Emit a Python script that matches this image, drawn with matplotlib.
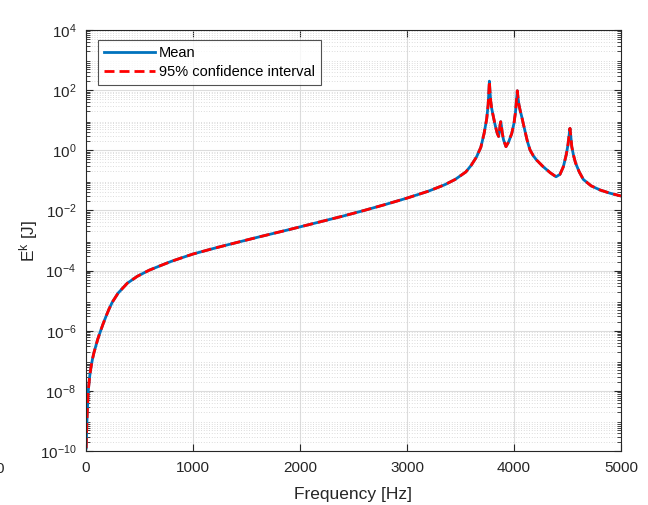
import numpy as np
import matplotlib
matplotlib.use('Agg')
import matplotlib.pyplot as plt
from matplotlib.ticker import LogLocator, FixedLocator, NullFormatter

# frequency [Hz] and kinetic energy (log10 of E^k [J])
freq = [2, 6, 12, 21, 35, 45, 60, 75, 90, 110, 137, 160, 184, 215, 246, 300,
        386, 480, 589, 700, 800, 916, 1000, 1165, 1283, 1595, 1907, 2187,
        2400, 2600, 2800, 3000, 3200, 3350, 3450, 3550, 3600, 3650, 3690,
        3720, 3745, 3758, 3765, 3770, 3775, 3782, 3792, 3807, 3825, 3843,
        3856, 3864, 3870, 3876, 3882, 3890, 3902, 3925, 3950, 3979, 4000,
        4015, 4024, 4031, 4037, 4046, 4058, 4072, 4100, 4125, 4150, 4180,
        4210, 4274, 4340, 4393, 4430, 4461, 4490, 4505, 4515, 4523, 4530,
        4540, 4555, 4575, 4610, 4648, 4720, 4804, 4900, 5000]
log_mean = [-9.9, -9.3, -8.7, -8.0, -7.5, -7.25, -6.95, -6.72, -6.53, -6.28,
            -6.0, -5.77, -5.55, -5.28, -5.05, -4.75,
            -4.42, -4.19, -3.99, -3.83, -3.69, -3.55, -3.45, -3.29, -3.18,
            -2.90, -2.63, -2.38,
            -2.19, -2.0, -1.80, -1.59, -1.36, -1.15, -0.97, -0.72, -0.50,
            -0.22, 0.1,
            0.55, 1.05, 1.5, 1.95, 2.3, 1.98, 1.65, 1.38, 1.12, 0.82, 0.57,
            0.46, 0.62, 0.85, 0.95, 0.82, 0.58, 0.35, 0.12, 0.28, 0.56, 0.9,
            1.3, 1.7, 1.98, 1.76, 1.52, 1.32, 1.12, 0.68, 0.3,
            0.01, -0.18, -0.32, -0.55,
            -0.75, -0.88, -0.80, -0.55, -0.12, 0.2, 0.5, 0.73, 0.5,
            0.12, -0.15, -0.42, -0.72, -0.97, -1.18, -1.32, -1.43, -1.52]
mean = 10 ** np.array(log_mean)
ci = 10 ** np.array(log_mean)   # 95% bounds lie on top of the mean

plt.rcParams['font.family'] = ['Liberation Sans', 'DejaVu Sans']
plt.rcParams['mathtext.fontset'] = 'custom'
plt.rcParams['mathtext.rm'] = 'Liberation Sans'
plt.rcParams['mathtext.it'] = 'Liberation Sans:italic'
plt.rcParams['mathtext.bf'] = 'Liberation Sans:bold'

fig = plt.figure(figsize=(6.48, 5.05), dpi=100)
ax = fig.add_axes([86/648, 1-451/505, 535/648, 421/505])

ax.plot(freq, mean, color='#0072BD', lw=2.0, label='Mean')
ax.plot(freq, ci, color='#FF0000', lw=2.0, ls=(0, (3.6, 1.8)),
        label='95% confidence interval')

ax.set_yscale('log')
ax.set_xlim(0, 5000)
ax.set_ylim(1e-10, 1e4)
ax.xaxis.set_major_locator(FixedLocator([0, 1000, 2000, 3000, 4000, 5000]))
ax.yaxis.set_major_locator(FixedLocator([10.0**k for k in range(-10, 5, 2)]))
ax.yaxis.set_minor_locator(LogLocator(base=10, subs=np.arange(2, 10), numticks=50))
ax.yaxis.set_minor_formatter(NullFormatter())

axcol = '#262626'
for s in ax.spines.values():
    s.set_color(axcol)
    s.set_linewidth(0.8)
ax.tick_params(which='both', direction='in', top=True, right=True,
               colors=axcol, labelsize=11, labelcolor=axcol)
ax.tick_params(which='major', length=5, pad=7)
ax.tick_params(which='minor', length=3)

ax.grid(True, which='major', color='#dcdcdc', lw=0.8, ls='-')
ax.grid(True, which='minor', axis='y', color='#d0d0d0', lw=0.6, ls=(0, (1, 2.2)))
ax.set_axisbelow(True)

ax.set_xlabel('Frequency [Hz]', fontsize=12.5, color=axcol, labelpad=9)
ax.set_ylabel('E$^{\\mathrm{k}}$ [J]', fontsize=12.5, color=axcol, labelpad=0)

leg = ax.legend(loc='upper left', bbox_to_anchor=(0.022, 0.976), fontsize=10.5,
                frameon=True, fancybox=False, handlelength=3.5,
                borderpad=0.4, labelspacing=0.35, handletextpad=0.3,
                borderaxespad=0)
leg.get_frame().set_edgecolor(axcol)
leg.get_frame().set_linewidth(0.8)

# clipped tick label left over at the figure edge
fig.text(4/648, 1-469/505, '0', ha='right', va='center', fontsize=11, color=axcol)

fig.savefig('out.png', dpi=100)
